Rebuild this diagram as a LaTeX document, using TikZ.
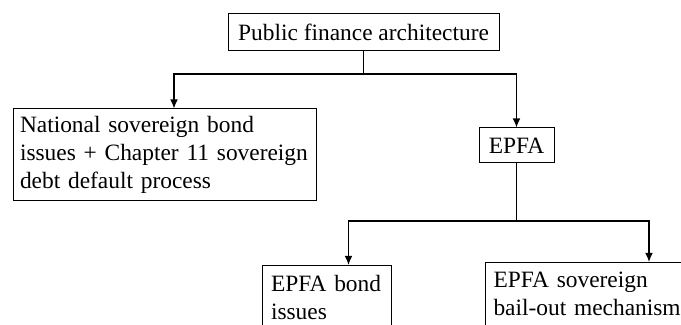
\documentclass[tikz,border=0pt]{standalone}
\usepackage{fontspec}
\setmainfont{Liberation Serif}
\usetikzlibrary{arrows.meta, positioning, calc}

\begin{document}
\begin{tikzpicture}[x=0.5pt, y=-0.5pt,
  font=\fontsize{11.7}{14}\selectfont,
  box/.style={draw, line width=0.5pt, inner sep=0pt},
  link/.style={line width=0.55pt},
  arr/.style={link, -{Latex[length=4.5pt, width=3.8pt]}}]
  \useasboundingbox (0,0) rectangle (681,325);
  \clip (0,0) rectangle (681,325);

  % Boxes
  \node[box, minimum width=135.5pt, minimum height=18.5pt] (pfa) at (363.5,32.5) {Public finance architecture};
  \node[box, text width=144.5pt, align=left, minimum width=151.5pt, minimum height=46pt] (national) at (164.5,155)
    {National sovereign bond\\issues + Chapter 11 sovereign\\debt default process};
  \node[box, minimum width=37.5pt, minimum height=17.5pt] (epfa) at (516.5,145.5) {EPFA};
  \node[box, anchor=north west, text width=56pt, align=left, inner xsep=4.25pt, inner ysep=5pt, text depth=40pt] (bonds) at (262,265)
    {EPFA bond\\issues};
  \node[box, anchor=north west, text width=100pt, align=left, inner xsep=4pt, inner ysep=5pt, text depth=40pt] (bailout) at (485,262)
    {EPFA sovereign\\bail-out mechanism};

  % Links
  \coordinate (split1) at (363.5,74);
  \coordinate (split2) at (516.5,221);
  \draw[link] (pfa.south) -- (split1);
  \draw[arr] (split1) -| ([xshift=4.75pt]national.north);
  \draw[arr] (split1) -| (epfa.north);
  \draw[link] (epfa.south) -- (split2);
  \draw[arr] (split2) -| ([xshift=10.75pt]bonds.north);
  \draw[arr] (split2) -| ([xshift=82pt]bailout.north west);
\end{tikzpicture}
\end{document}
